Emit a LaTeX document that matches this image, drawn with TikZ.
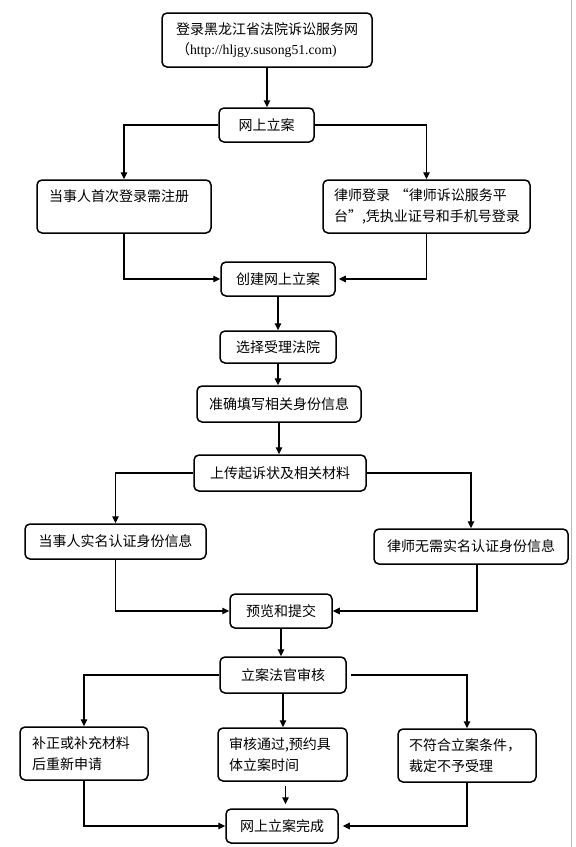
\documentclass[tikz,border=0pt]{standalone}
\usepackage{fontspec}
\setmainfont{Noto Sans CJK SC}
\newfontfamily\urlfont{Liberation Serif}
\usetikzlibrary{arrows.meta}
\begin{document}
\begin{tikzpicture}[x=1pt,y=-1pt,
  box/.style={draw, line width=1.5pt, rounded corners=5pt, inner sep=0pt,
    font=\fontsize{14}{21}\selectfont, align=center},
  lbox/.style={box, align=left},
  flow/.style={line width=1.4pt, -{Triangle[length=7pt,width=6.5pt]}},
  link/.style={line width=1.4pt}]
\useasboundingbox (0,0) rectangle (576,847);
\fill[white] (0,0) rectangle (576,847);
\draw[gray!55, line width=0.8pt] (571,0) -- (571,847);

% nodes
\node[lbox, minimum width=210pt, minimum height=54pt, font=\fontsize{14}{20}\selectfont] (b1) at (267,40)
  {登录黑龙江省法院诉讼服务网\\（{\urlfont\fontsize{13.7}{20}\selectfont http://hljgy.susong51.com)}};
\node[box, minimum width=95pt, minimum height=34pt] (b2) at (266.5,125) {网上立案};
\node[lbox, text width=150pt, inner xsep=12pt, minimum height=53pt] (b3) at (124,206.5)
  {当事人首次登录需注册\\\mbox{}};
\node[lbox, text width=185pt, inner xsep=11pt, minimum height=53pt] (b4) at (426.5,206.5)
  {律师登录\hspace{5pt}“律师诉讼服务平\\台”,凭执业证号和手机号登录};
\node[box, minimum width=114pt, minimum height=34pt] (b5) at (278,279) {创建网上立案};
\node[box, minimum width=116pt, minimum height=32pt] (b6) at (278,347) {选择受理法院};
\node[box, minimum width=164pt, minimum height=36pt] (b7) at (279,404) {准确填写相关身份信息};
\node[box, minimum width=172pt, minimum height=36pt] (b8) at (280,473) {上传起诉状及相关材料};
\node[box, minimum width=181pt, minimum height=35pt] (b9) at (115.5,541.5) {当事人实名认证身份信息};
\node[box, minimum width=194pt, minimum height=35pt] (b10) at (471,546.5) {律师无需实名认证身份信息};
\node[box, minimum width=102pt, minimum height=34pt] (b11) at (281,611) {预览和提交};
\node[box, minimum width=126pt, minimum height=36pt] (b12) at (283,675) {立案法官审核};
\node[lbox, text width=104pt, inner xsep=12pt, minimum height=53pt] (b13) at (84,753.5)
  {补正或补充材料\\后重新申请};
\node[lbox, text width=107pt, inner xsep=11pt, minimum height=53pt] (b14) at (282.5,754.5)
  {审核通过,预约具\\体立案时间};
\node[lbox, text width=116pt, inner xsep=11pt, minimum height=53pt] (b15) at (467,755.5)
  {不符合立案条件，\\裁定不予受理};
\node[box, minimum width=112pt, minimum height=34pt] (b16) at (282,826) {网上立案完成};

% connectors
\draw[flow] (b1.south) -- (b1.south |- b2.north);
\draw[flow] (b2.west) -| (b3.north);
\draw[flow] (b2.east) -| (b4.north);
\draw[flow] (b3.south) |- (b5.west);
\draw[flow, shorten >=3pt] (b4.south) |- (b5.east);
\draw[flow] (b5.south) -- (b5.south |- b6.north);
\draw[flow] (b6.south) -- (b6.south |- b7.north);
\draw[flow] (b7.south) -- (b7.south |- b8.north);
\draw[flow] (b8.west) -| (b9.north);
\draw[flow] (b8.east) -| (b10.north);
\draw[flow] (b9.south) |- (b11.west);
\draw[flow] ([xshift=6pt]b10.south) |- (b11.east);
\draw[flow] (b11.south) -- (b11.south |- b12.north);
\draw[flow] (b12.west) -| (b13.north);
\draw[flow, shorten <=4pt] (b12.east) -| (b15.north);
\draw[flow] (b12.south) -- (b12.south |- b14.north);
\draw[flow, shorten <=4pt, shorten >=4pt] ([xshift=3pt]b14.south) -- ([xshift=3pt]b14.south |- b16.north);
\draw[flow] (b13.south) |- (b16.west);
\draw[flow, shorten >=4pt] (b15.south) |- (b16.east);
\end{tikzpicture}
\end{document}
